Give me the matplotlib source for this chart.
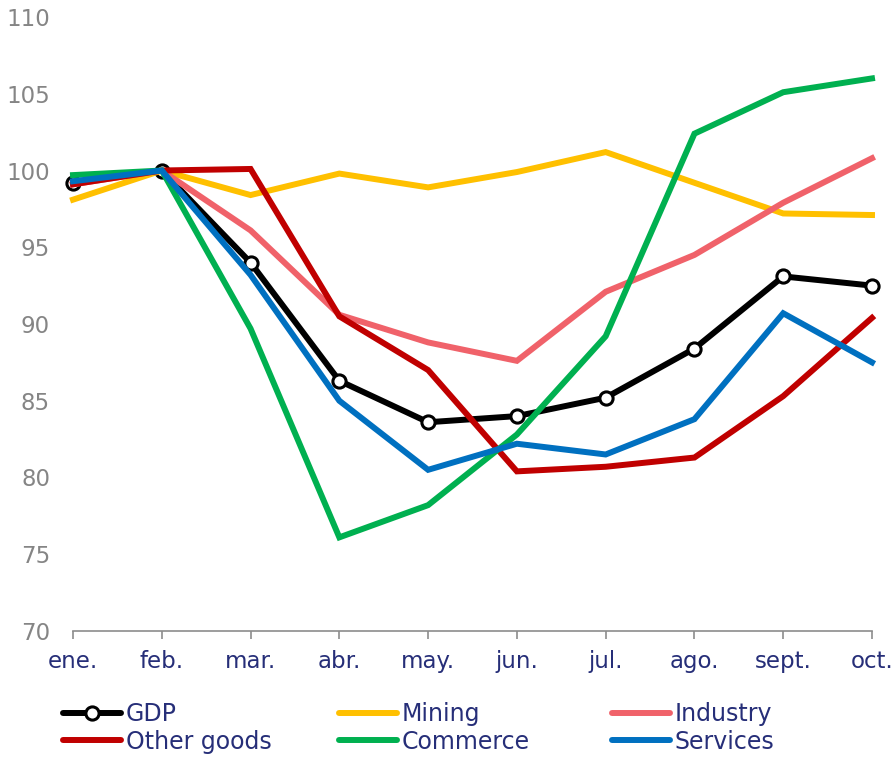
import matplotlib
matplotlib.use("Agg")
import matplotlib.pyplot as plt
from matplotlib.lines import Line2D

months = ["ene.", "feb.", "mar.", "abr.", "may.", "jun.", "jul.", "ago.", "sept.", "oct."]

gdp = [99.2, 100.0, 94.0, 86.3, 83.6, 84.0, 85.2, 88.4, 93.1, 92.5]
mining = [98.1, 100.0, 98.4, 99.8, 98.9, 99.9, 101.2, 99.2, 97.2, 97.1]
industry = [99.1, 100.0, 96.1, 90.6, 88.8, 87.6, 92.1, 94.5, 97.9, 100.8]
other_goods = [99.1, 100.0, 100.1, 90.5, 87.0, 80.4, 80.7, 81.3, 85.3, 90.4]
commerce = [99.7, 100.0, 89.7, 76.1, 78.2, 82.8, 89.2, 102.4, 105.1, 106.0]
services = [99.3, 100.0, 93.2, 85.0, 80.5, 82.2, 81.5, 83.8, 90.7, 87.5]

series = [
    ("Mining", mining, "#FFC000"),
    ("Industry", industry, "#F0626A"),
    ("Other goods", other_goods, "#C00000"),
    ("Commerce", commerce, "#00B050"),
    ("Services", services, "#0070C0"),
]

text_blue = "#262E78"
grey = "#858585"
plt.rcParams["font.family"] = ["DejaVu Sans"]

fig = plt.figure(figsize=(8.93, 7.57), dpi=100)
ax = fig.add_axes([73 / 893, 1 - 631 / 757, (872 - 73) / 893, (631 - 17) / 757])

x = list(range(len(months)))
ax.plot(x, gdp, color="black", lw=4.3, marker="o", ms=9.5, mfc="white",
        mec="black", mew=2.2, clip_on=False, zorder=2, solid_joinstyle="miter")
for name, vals, col in series:
    ax.plot(x, vals, color=col, lw=4.3, clip_on=False, zorder=3, solid_joinstyle="miter")

ax.set_xlim(0, 9)
ax.set_ylim(70, 110)
ax.set_yticks(range(70, 111, 5))
ax.set_xticks(x)
ax.set_xticklabels(months)

for s in ["top", "right", "left"]:
    ax.spines[s].set_visible(False)
ax.spines["bottom"].set_color("#8C8C8C")
ax.spines["bottom"].set_linewidth(1.2)

ax.tick_params(axis="y", length=0, pad=16.5, labelsize=16.5, labelcolor=grey)
ax.tick_params(axis="x", length=6, width=1.2, color="#8C8C8C", pad=8,
               labelsize=16.5, labelcolor=text_blue, direction="out")

# legend, three columns placed separately
gdp_handle = Line2D([], [], color="black", lw=4.3, marker="o", ms=9.5,
                    mfc="white", mec="black", mew=2.2, solid_capstyle="round")
handles = [gdp_handle] + [Line2D([], [], color=c, lw=4.3, solid_capstyle="round")
                          for _, _, c in series]
labels = ["GDP"] + [n for n, _, _ in series]
cols = [[0, 3], [1, 4], [2, 5]]
col_x = [63, 339, 612]
for idx, cx in zip(cols, col_x):
    leg = fig.legend([handles[i] for i in idx], [labels[i] for i in idx],
                     loc="upper left", bbox_to_anchor=(cx / 893, 1 - 702 / 757),
                     frameon=False, fontsize=17, handlelength=2.45,
                     handletextpad=0.2, borderpad=0, borderaxespad=0,
                     labelspacing=0.15, labelcolor=text_blue)

fig.savefig("out.png", dpi=100)
